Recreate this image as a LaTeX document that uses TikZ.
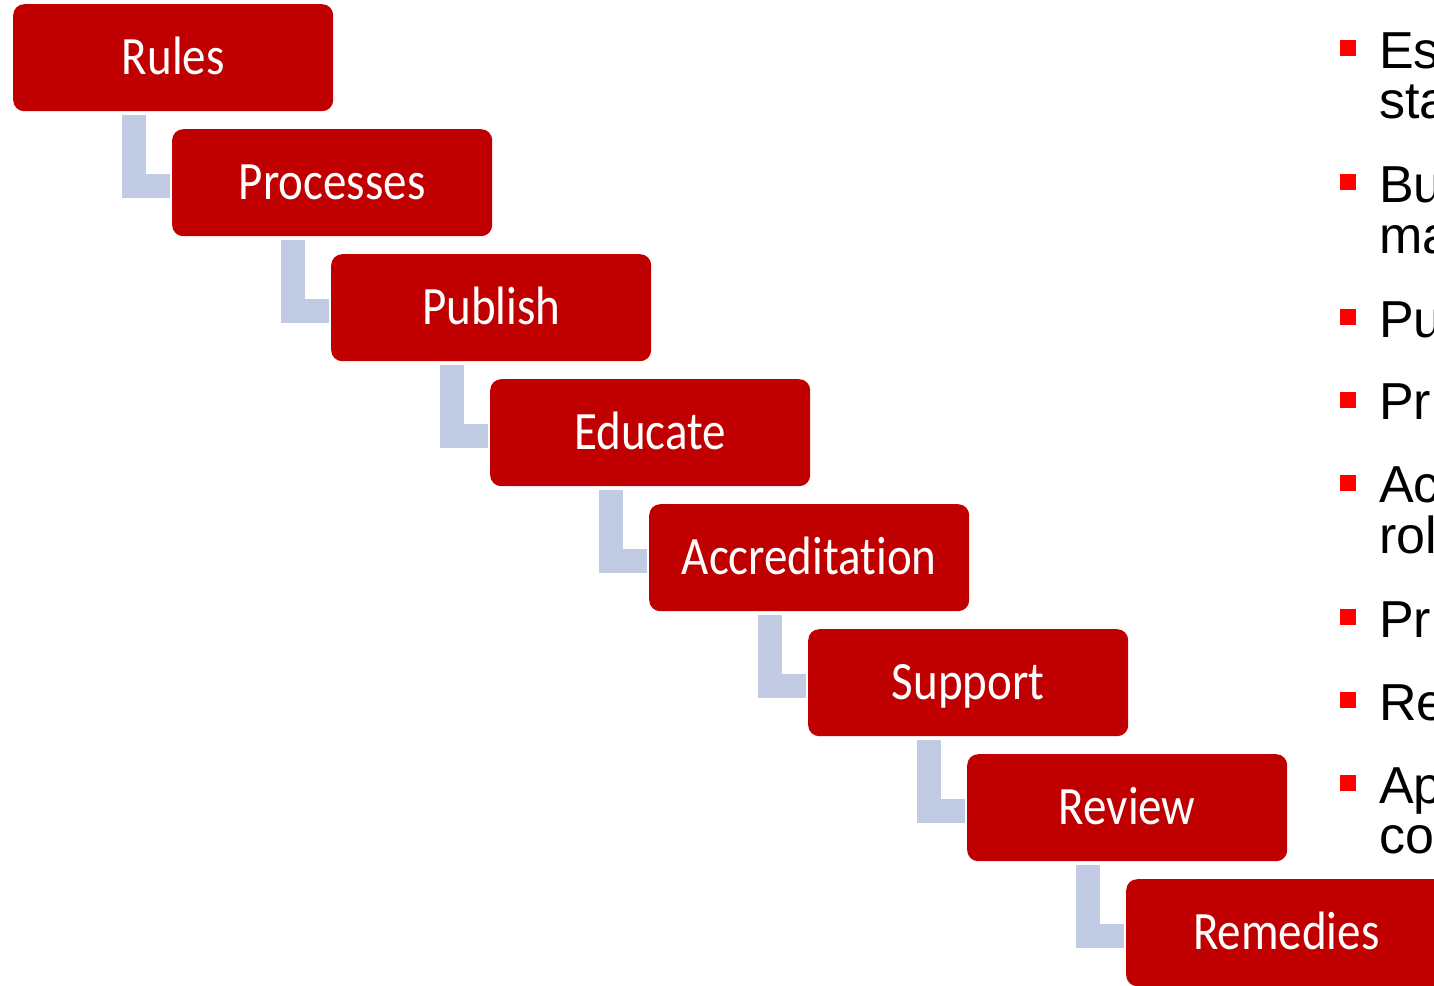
\documentclass[tikz,border=0pt]{standalone}
\usepackage{fontspec}
\setmainfont{Carlito}[Ligatures={NoCommon}]
\newfontfamily\arialf{Liberation Sans}
\usetikzlibrary{calc}
\definecolor{boxred}{RGB}{192,0,0}
\definecolor{connblue}{RGB}{194,203,228}
\definecolor{bulred}{RGB}{255,0,0}
\newcommand{\vstretch}[1]{\scalebox{1}[1.15]{#1}}
\begin{document}
\begin{tikzpicture}[x=1pt,y=-1pt,
  stepbox/.style={fill=boxred, draw=none, rounded corners=11pt, minimum width=320pt,
    minimum height=107pt, inner sep=0pt, anchor=north west, text=white,
    font=\fontsize{47}{56}\selectfont, text height=33pt, text depth=0pt},
  conn/.style={draw=connblue, line width=24pt, line join=miter},
  bulletbox/.style={fill=bulred, draw=none, minimum size=16pt, inner sep=0pt},
  rtext/.style={anchor=base west, inner sep=0pt, font=\arialf\fontsize{52}{56}\selectfont}]
\useasboundingbox (0,0) rectangle (1434,985);
\clip (0,0) rectangle (1434,985);
% boxes
\foreach \n/\t [count=\i from 0] in {rules/Rules,processes/Processes,publish/Publish,educate/Educate,accred/Accreditation,support/Support,review/Review,remedies/Remedies}
  \node[stepbox] (\n) at ({13+159*\i},{4+125*\i}) {\vstretch{\t}};
% L-shaped connectors
\foreach \a/\b in {rules/processes,processes/publish,publish/educate,educate/accred,accred/support,support/review,review/remedies}
  \draw[conn] ($(\a.south west)+(121,4)$) |- ($(\b.west)+(-2,3)$);
% bullets on the right
\foreach \y [count=\i] in {48,182,317,400,483,617,700,783}
  \node[bulletbox] (bu\i) at (1348,\y) {};
\node[rtext] (t1a) at (1379,68) {Es};
\node[rtext] (t1b) at (1379,118) {sta};
\node[rtext] (t2a) at (1379,202) {Bu};
\node[rtext] (t2b) at (1379,253) {ma};
\node[rtext] (t3a) at (1379,337) {Pu};
\node[rtext] (t4a) at (1379,419) {Pr};
\node[rtext] (t5a) at (1379,502) {Ac};
\node[rtext] (t5b) at (1379,553) {rol};
\node[rtext] (t6a) at (1379,637) {Pr};
\node[rtext] (t7a) at (1379,720) {Re};
\node[rtext] (t8a) at (1379,803) {Ap};
\node[rtext] (t8b) at (1379,853) {co};
\end{tikzpicture}
\end{document}
